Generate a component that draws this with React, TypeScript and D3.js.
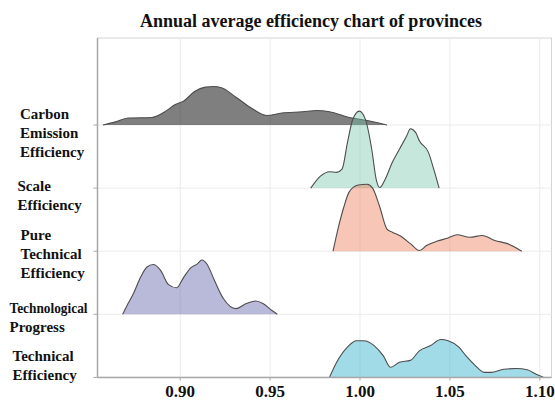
import React from "react";
import * as d3 from "d3";

// rows, top to bottom
const categories = [
  "Carbon Emission Efficiency",
  "Scale Efficiency",
  "Pure Technical Efficiency",
  "Technological Progress",
  "Technical Efficiency",
];
const categoryLines = [
  ["Carbon", "Emission", "Efficiency"],
  ["Scale", "Efficiency"],
  ["Pure", "Technical", "Efficiency"],
  ["Technological", "Progress"],
  ["Technical", "Efficiency"],
];
const xTicks = [0.9, 0.95, 1.0, 1.05, 1.1];

// density curves: [efficiency, height in row units]
const carbonDensity = [
  [0.857, 0], [0.864, 0.05], [0.871, 0.11], [0.884, 0.12], [0.892, 0.22],
  [0.897, 0.32], [0.902, 0.38], [0.908, 0.53], [0.914, 0.6], [0.9185, 0.61],
  [0.923, 0.59], [0.931, 0.44], [0.94, 0.26], [0.948, 0.15], [0.9565, 0.19],
  [0.968, 0.21], [0.976, 0.23], [0.983, 0.21], [0.994, 0.12], [1.004, 0.07],
  [1.015, 0],
];
const scaleDensity = [
  [0.9726, 0], [0.978, 0.19], [0.983, 0.26], [0.987, 0.25], [0.99, 0.3],
  [0.993, 0.72], [0.996, 1.09], [0.9996, 1.22], [1.003, 1.09], [1.0065, 0.62],
  [1.009, 0.14], [1.011, 0.01], [1.014, 0.14], [1.018, 0.41], [1.022, 0.62],
  [1.026, 0.83], [1.028, 0.94], [1.031, 0.88], [1.033, 0.75], [1.038, 0.57],
  [1.041, 0.3], [1.044, 0],
];
const pureDensity = [
  [0.985, 0], [0.988, 0.38], [0.991, 0.7], [0.994, 0.94], [0.999, 1.05],
  [1.004, 1.06], [1.007, 1.0], [1.011, 0.7], [1.015, 0.35], [1.018, 0.3],
  [1.022, 0.25], [1.028, 0.12], [1.033, 0.01], [1.037, 0.09], [1.043, 0.16],
  [1.049, 0.21], [1.054, 0.26], [1.061, 0.22], [1.068, 0.25], [1.075, 0.17],
  [1.082, 0.12], [1.09, 0],
];
const techProgressDensity = [
  [0.868, 0], [0.871, 0.17], [0.874, 0.33], [0.878, 0.59], [0.8815, 0.75],
  [0.885, 0.79], [0.889, 0.7], [0.8935, 0.47], [0.898, 0.42], [0.902, 0.59],
  [0.906, 0.74], [0.9096, 0.8], [0.912, 0.86], [0.915, 0.79], [0.919, 0.54],
  [0.924, 0.25], [0.931, 0.09], [0.936, 0.16], [0.942, 0.21], [0.946, 0.17],
  [0.951, 0.06], [0.954, 0],
];
const technicalDensity = [
  [0.983, 0], [0.987, 0.24], [0.993, 0.48], [0.998, 0.58], [1.002, 0.58],
  [1.008, 0.5], [1.013, 0.34], [1.017, 0.16], [1.022, 0.24], [1.028, 0.27],
  [1.033, 0.42], [1.039, 0.5], [1.045, 0.6], [1.049, 0.58], [1.055, 0.48],
  [1.059, 0.34], [1.064, 0.19], [1.069, 0.08], [1.073, 0.08], [1.08, 0.13],
  [1.087, 0.14], [1.093, 0.12], [1.098, 0.05], [1.102, 0],
];
const densities = [carbonDensity, scaleDensity, pureDensity, techProgressDensity, technicalDensity];

const fills = ["#000000", "#70c3a8", "#eb7048", "#5050a2", "#16a5c5"];
const fillOpacities = [0.5, 0.4, 0.4, 0.4, 0.4];

// label layout (left x, vertical shift of the block from the row baseline)
const labelX = [20, 17.5, 20.5, 9.5, 12.5];
const labelShift = [7.5, 7, 3, 3.5, -12];

const W = 555;
const H = 401;
const serif = "'Liberation Serif', 'Times New Roman', serif";

export default function App() {
  const panel = { left: 97.5, right: 551.5, top: 38, bottom: 377.4 };

  const x = d3.scaleLinear().domain([0.854, 1.1065]).range([panel.left, panel.right]);
  const y = d3.scalePoint<string>().domain(categories).range([125, panel.bottom]);
  const step = y.step();
  const h = d3.scaleLinear().domain([0, 1]).range([0, step]);

  return (
    <svg
      width={W}
      height={H}
      style={{ position: "absolute", left: 0, top: 0, display: "block", background: "#fff" }}
    >
      <text
        x={311}
        y={27}
        textAnchor="middle"
        fontFamily={serif}
        fontWeight="bold"
        fontSize={18}
        fill="#111"
      >
        Annual average efficiency chart of provinces
      </text>

      {/* panel */}
      <rect
        x={panel.left}
        y={panel.top}
        width={panel.right - panel.left}
        height={panel.bottom - panel.top}
        fill="#fff"
        stroke="#d4d4d4"
        strokeWidth={1}
      />
      {xTicks.map((t) => (
        <line key={t} x1={x(t)} x2={x(t)} y1={panel.top} y2={panel.bottom} stroke="#ebebeb" strokeWidth={1} />
      ))}
      {categories.map((c) => (
        <line key={c} x1={panel.left} x2={panel.right} y1={y(c)} y2={y(c)} stroke="#ebebeb" strokeWidth={1} />
      ))}

      {/* ridges, top row drawn first */}
      {categories.map((c, i) => {
        const base = y(c) as number;
        const area = d3
          .area<number[]>()
          .x((d) => x(d[0]))
          .y0(base)
          .y1((d) => base - h(d[1]))
          .curve(d3.curveMonotoneX);
        const line = d3
          .line<number[]>()
          .x((d) => x(d[0]))
          .y((d) => base - h(d[1]))
          .curve(d3.curveMonotoneX);
        return (
          <g key={c}>
            <path d={area(densities[i]) || ""} fill={fills[i]} fillOpacity={fillOpacities[i]} />
            <path d={line(densities[i]) || ""} fill="none" stroke="#4d4d4d" strokeWidth={1.1} />
          </g>
        );
      })}

      {/* axes */}
      <line x1={panel.left} x2={panel.left} y1={panel.top} y2={panel.bottom} stroke="#a8a8a8" strokeWidth={1.5} />
      <line x1={panel.left} x2={panel.right} y1={panel.bottom} y2={panel.bottom} stroke="#a8a8a8" strokeWidth={1.5} />
      {categories.map((c) => (
        <line key={c} x1={panel.left - 4} x2={panel.left} y1={y(c)} y2={y(c)} stroke="#a8a8a8" strokeWidth={1} />
      ))}
      {xTicks.map((t) => (
        <g key={t}>
          <line x1={x(t)} x2={x(t)} y1={panel.bottom} y2={panel.bottom + 3} stroke="#a8a8a8" strokeWidth={1} />
          <text
            x={x(t)}
            y={396.5}
            textAnchor="middle"
            fontFamily={serif}
            fontWeight="bold"
            fontSize={17}
            fill="#111"
          >
            {t.toFixed(2)}
          </text>
        </g>
      ))}

      {/* row labels */}
      {categories.map((c, i) => {
        const lines = categoryLines[i];
        const center = (y(c) as number) + labelShift[i];
        const first = center - ((lines.length - 1) * 19) / 2 + 5;
        return (
          <text key={c} fontFamily={serif} fontWeight="bold" fontSize={15} fill="#111">
            {lines.map((l, j) => (
              <tspan
                key={l}
                x={labelX[i]}
                y={first + j * 19}
                {...(l === "Technological" ? { textLength: 78, lengthAdjust: "spacingAndGlyphs" } : {})}
              >
                {l}
              </tspan>
            ))}
          </text>
        );
      })}
    </svg>
  );
}
